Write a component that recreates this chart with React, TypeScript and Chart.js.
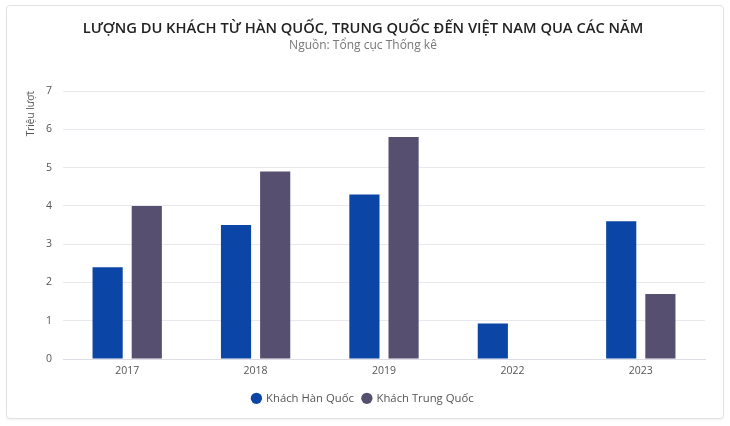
import React, { useEffect, useRef } from 'react'
import Chart from 'chart.js/auto';

const years = ['2017', '2018', '2019', '2022', '2023'];
const koreanVisitors = [2.4, 3.5, 4.3, 0.93, 3.6];
const chineseVisitors = [4.0, 4.9, 5.8, null, 1.7];
const yTicks = [0, 1, 2, 3, 4, 5, 6, 7];

const FONT = "'Open Sans', sans-serif";

const App: React.FC = () => {
  const chartRef = useRef<HTMLCanvasElement | null>(null);
  const chartInstanceRef = useRef<Chart | null>(null);

  useEffect(() => {
    if (chartInstanceRef.current) {
      chartInstanceRef.current.destroy();
    }
    const ctx = chartRef.current?.getContext('2d');
    if (!ctx) return;

    chartInstanceRef.current = new Chart(ctx, {
      type: 'bar',
      data: {
        labels: years,
        datasets: [
          {
            label: 'Khách Hàn Quốc',
            data: koreanVisitors,
            backgroundColor: '#0b45a5',
            categoryPercentage: 0.61,
            barPercentage: 0.77,
          },
          {
            label: 'Khách Trung Quốc',
            data: chineseVisitors,
            backgroundColor: '#564f70',
            categoryPercentage: 0.61,
            barPercentage: 0.77,
          },
        ],
      },
      options: {
        animation: false,
        responsive: false,
        maintainAspectRatio: false,
        layout: { padding: { left: 14, right: 18, top: 0, bottom: 4 } },
        plugins: {
          title: {
            display: true,
            text: 'LƯỢNG DU KHÁCH TỪ HÀN QUỐC, TRUNG QUỐC ĐẾN VIỆT NAM QUA CÁC NĂM',
            color: '#222',
            font: { family: FONT, size: 14.7, weight: 600 },
            padding: { top: 14, bottom: 1 },
          },
          subtitle: {
            display: true,
            text: 'Nguồn: Tổng cục Thống kê',
            color: '#777',
            font: { family: FONT, size: 12 },
            padding: { top: 0, bottom: 38 },
          },
          legend: {
            position: 'bottom',
            labels: {
              usePointStyle: true,
              pointStyle: 'circle',
              boxWidth: 8,
              boxHeight: 8,
              color: '#555',
              font: { family: FONT, size: 11.3 },
              padding: 9,
            },
          },
          tooltip: { enabled: false },
        },
        scales: {
          x: {
            grid: { display: false, drawTicks: false },
            border: { color: '#dddde6' },
            ticks: { color: '#555', font: { family: FONT, size: 10.5 }, padding: 6 },
          },
          y: {
            min: 0,
            max: yTicks[yTicks.length - 1],
            afterBuildTicks: (axis) => {
              axis.ticks = yTicks.map((v) => ({ value: v }));
            },
            grid: { color: '#e8e8ee', drawTicks: false },
            border: { display: false },
            ticks: { color: '#555', font: { family: FONT, size: 10.5 }, padding: 11 },
            title: {
              display: true,
              text: 'Triệu lượt',
              align: 'end',
              color: '#555',
              font: { family: FONT, size: 10 },
              padding: { top: 4, bottom: -2 },
            },
          },
        },
      },
    });

    return () => {
      if (chartInstanceRef.current) {
        chartInstanceRef.current.destroy();
        chartInstanceRef.current = null;
      }
    };
  }, []);

  return (
    <div style={{ position: 'fixed', left: 0, top: 0, width: 730, height: 426, background: '#fff' }}>
      <div
        style={{
          position: 'absolute',
          left: 6,
          top: 5,
          width: 716,
          height: 412,
          border: '1px solid #e2e2e6',
          borderRadius: 4,
          boxShadow: '0 1px 2px rgba(0,0,0,0.06)',
          background: '#fff',
        }}
      >
        <canvas ref={chartRef} width={716} height={412} style={{ width: 716, height: 412 }}></canvas>
      </div>
    </div>
  );
};

export default App;
